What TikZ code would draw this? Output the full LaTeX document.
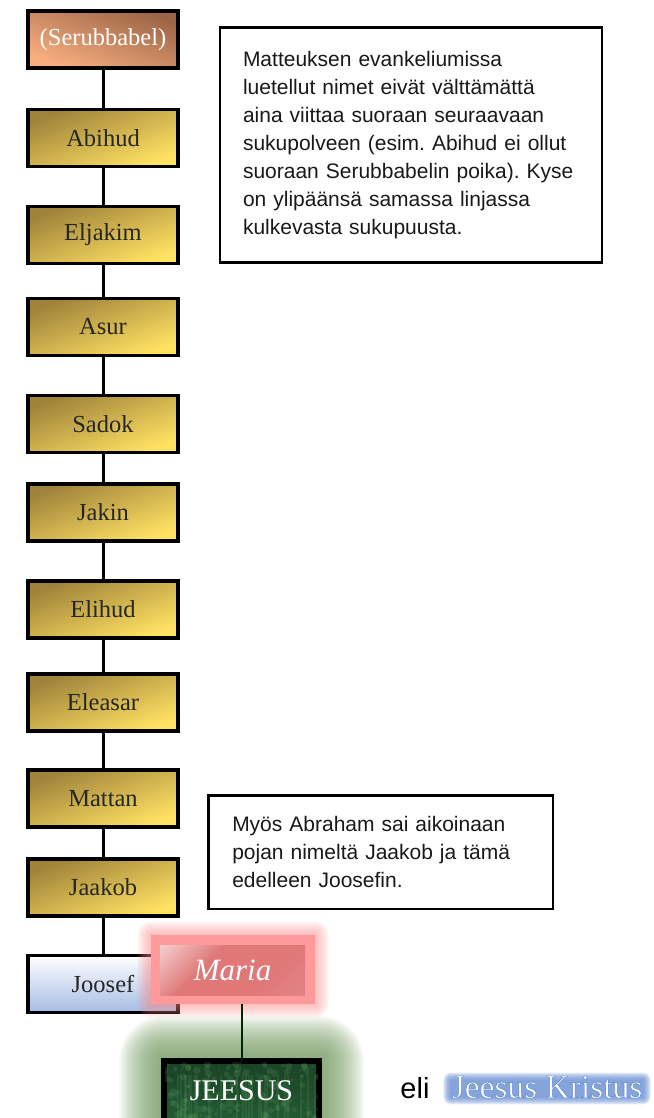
\documentclass[tikz,border=0pt]{standalone}
\usepackage{fontspec}
\setmainfont{Liberation Serif}
\newfontfamily\sansnote{Liberation Sans}
\usetikzlibrary{calc,backgrounds}
\frenchspacing
\definecolor{golddark}{HTML}{A0833A}
\definecolor{goldlight}{HTML}{FFE262}
\definecolor{serubdark}{HTML}{9C6646}
\definecolor{serublight}{HTML}{F9AE80}
\definecolor{joosefblue}{HTML}{A6BCE4}
\definecolor{mariapink}{HTML}{FF9A9A}
\definecolor{mariared}{HTML}{E07878}
\definecolor{glowpink}{HTML}{FF8A8A}
\definecolor{jeesusgreen}{HTML}{1A4327}
\definecolor{jeesusgreenB}{HTML}{245A33}
\definecolor{glowgreen}{HTML}{6F975C}
\definecolor{kristusblue}{HTML}{6A90D4}
\pgfdeclareverticalshading{mariashade}{100bp}{color(0bp)=(mariared!85!white); color(35bp)=(mariared); color(62bp)=(mariared); color(82bp)=(mariared!45!white); color(100bp)=(white)}
\begin{document}
\begin{tikzpicture}[x=1pt,y=-1pt,
  namebox/.style={draw=black, line width=3.5pt, minimum width=150pt, minimum height=57pt, inner sep=0pt, font=\fontsize{24.5}{26}\selectfont, text=black!85},
  goldbox/.style={namebox, top color=golddark, bottom color=goldlight, shading angle=21},
  conn/.style={draw=black, line width=3pt},
  notebox/.style={draw=black, line width=2.5pt, fill=white, align=left, font=\sansnote\fontsize{21}{28}\selectfont, text=black!90}
]
\useasboundingbox (0,0) rectangle (653,1118);
\clip (0,0) rectangle (653,1118);

% note boxes
\node[notebox, text width=336pt, inner xsep=23pt, minimum height=234.5pt] (note1) at (411,145)
  {Matteuksen evankeliumissa\\ luetellut nimet eivät välttämättä\\ aina viittaa suoraan seuraavaan\\ sukupolveen (esim. Abihud ei ollut\\ suoraan Serubbabelin poika). Kyse\\ on ylipäänsä samassa linjassa\\ kulkevasta sukupuusta.};
\node[notebox, text width=296.5pt, inner xsep=24pt, minimum height=113.5pt] (note2) at (380.5,852)
  {Myös Abraham sai aikoinaan\\ pojan nimeltä Jaakob ja tämä\\ edelleen Joosefin.};

% name boxes
\node[namebox, top color=serubdark, bottom color=serublight, shading angle=-21, text=white] (serub) at (103,39.5) {(Serubbabel)};
\node[goldbox] (abihud) at (103,138) {Abihud};
\node[goldbox] (eljakim) at (103,235) {Eljakim};
\node[goldbox] (asur) at (103,327) {Asur};
\node[goldbox] (sadok) at (103,424) {Sadok};
\node[goldbox] (jakin) at (103,512.5) {Jakin};
\node[goldbox] (elihud) at (103,609.5) {Elihud};
\node[goldbox] (eleasar) at (103,702.5) {Eleasar};
\node[goldbox] (mattan) at (103,798.5) {Mattan};
\node[goldbox] (jaakob) at (103,887.5) {Jaakob};
\node[namebox, top color=white, bottom color=joosefblue] (joosef) at (103,984) {Joosef};

\foreach \a/\b in {serub/abihud, abihud/eljakim, eljakim/asur, asur/sadok, sadok/jakin, jakin/elihud, elihud/eleasar, eleasar/mattan, mattan/jaakob, jaakob/joosef}
  \draw[conn] (\a.south) -- (\b.north);

% Maria with glow
\coordinate (mgnw) at (151,935);
\coordinate (mgse) at (315,1004);
\foreach \i in {1,...,14}
  \fill[glowpink, opacity=0.05, rounded corners=\i pt] ($(mgnw)+(-\i,-\i)$) rectangle ($(mgse)+(\i,\i)$);
\node[fill=mariapink, minimum width=164pt, minimum height=69pt, inner sep=0pt] (mariaouter) at (233,969.5) {};
\node[shading=mariashade, shading angle=45, minimum width=145pt, minimum height=50pt, inner sep=0pt, text=white, font=\itshape\fontsize{31}{33}\selectfont] (maria) at (232.5,970) {Maria};

% Jeesus with glow and texture
\node[draw=black, line width=4pt, top color=jeesusgreen, bottom color=jeesusgreenB, minimum width=153pt, minimum height=58pt, inner sep=0pt] (jeesusbox) at (241.5,1091) {};
\begin{scope}
  \clip (jeesusbox.north west) rectangle (jeesusbox.south east);
  \pgfmathsetseed{7}
  \foreach \k in {1,...,140}{
    \pgfmathsetmacro{\px}{165+155*rnd}
    \pgfmathsetmacro{\py}{1062+60*rnd}
    \pgfmathsetmacro{\pr}{1+3*rnd}
    \fill[green!45!black!60!white, opacity=0.18] (\px,\py) circle (\pr pt);
  }
  \foreach \k in {1,...,25}{
    \pgfmathsetmacro{\px}{165+155*rnd}
    \fill[green!30!white, opacity=0.08] (\px,1075) rectangle (\px+2,1122);
  }
\end{scope}
\draw[black, line width=4pt] (jeesusbox.north west) rectangle (jeesusbox.south east);
\node[text=white, font=\fontsize{30}{32}\selectfont, inner sep=0pt] (jeesus) at (jeesusbox.center) {JEESUS};
\begin{scope}[on background layer]
  \foreach \i in {1,...,44}
    \fill[glowgreen, opacity=0.035, rounded corners=\i pt] ($(jeesusbox.north west)+(-\i,-\i)$) rectangle ($(jeesusbox.south east)+(\i,\i)$);
\end{scope}
\draw[black!85!green, line width=2pt] (jeesusbox.north) -- (jeesusbox.north |- mariaouter.south);

% eli Jeesus Kristus
\node[font=\sansnote\fontsize{29}{31}\selectfont, text=black, inner sep=0pt] (eli) at (415,1088) {eli};
\node[font=\fontsize{33.5}{36}\selectfont, text=white, inner sep=0pt] (kristus) at (547,1087)
  {\special{pdf:literal direct 2 Tr 0.45 w 0.33 0.50 0.80 RG}Jeesus Kristus\special{pdf:literal direct 0 Tr}};
\begin{scope}[on background layer]
  \foreach \i in {1,...,8}
    \fill[kristusblue, opacity=0.19, rounded corners=\i pt] ($(kristus.north west)+(-\i,-\i+5)$) rectangle ($(kristus.south east)+(\i,\i-2)$);
\end{scope}
\end{tikzpicture}
\end{document}
